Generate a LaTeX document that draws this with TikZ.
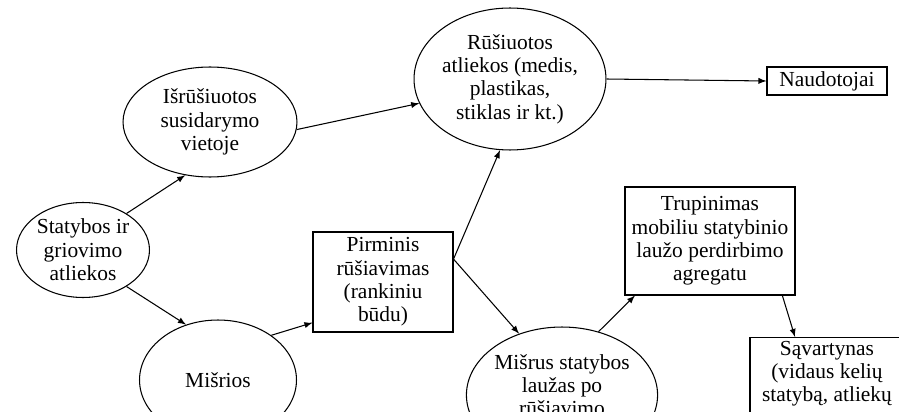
\documentclass[tikz,border=0pt]{standalone}
\usepackage{fontspec}
\setmainfont{Liberation Serif}
\usetikzlibrary{shapes.geometric}

\begin{document}
\begin{tikzpicture}[x=0.02cm,y=-0.02cm,
    oval/.style={draw,ellipse,inner sep=0pt,align=center,line width=0.6pt,font=\fontsize{12.2}{13.3}\selectfont},
    box/.style={draw,rectangle,inner sep=2pt,align=center,line width=0.6pt,font=\fontsize{12.2}{13.3}\selectfont},
    link/.style={-latex,line width=0.6pt}
]
\useasboundingbox (0,0) rectangle (899,412);
\clip (0,0) rectangle (899,412);

\node[oval] (stat)   at (83,250)  [minimum width=2.66cm,minimum height=1.9cm]  {Statybos ir\\griovimo\\atliekos};
\node[oval] (isr)    at (210,122) [minimum width=3.48cm,minimum height=2.2cm]  {Išrūšiuotos\\susidarymo\\vietoje};
\node[oval] (rus)    at (510,79)  [minimum width=3.52cm,minimum height=2.84cm] {Rūšiuotos\\atliekos (medis,\\plastikas,\\stiklas ir kt.)};
\node[box]  (naud)   at (827,81)  [minimum width=2.4cm,minimum height=0.56cm]  {Naudotojai};
\node[box]  (pirm)   at (383,282) [minimum width=2.8cm,minimum height=2.0cm]   {Pirminis\\rūšiavimas\\(rankiniu\\būdu)};
\node[oval] (misr)   at (218,380) [minimum width=3.14cm,minimum height=2.4cm]  {Mišrios};
\node[oval,text depth=0.4cm] (misrus) at (562,395) [minimum width=3.76cm,minimum height=2.72cm] {Mišrus statybos\\laužas po\\rūšiavimo};
\node[box]  (trup)   at (710,241) [minimum width=3.4cm,minimum height=2.16cm]  {Trupinimas\\mobiliu statybinio\\laužo perdirbimo\\agregatu};
\node[box,anchor=north,text depth=2cm] (sav) at (827,337) [minimum width=3.08cm] {Sąvartynas\\(vidaus kelių\\statybą, atliekų};

\draw[link] (stat.40) -- (isr.245);
\draw[link] (stat.-40) -- (misr.120);
\draw[link] (isr.-5) -- (rus.195);
\draw[link] (misr.40) -- (pirm.210);
\draw[link] (pirm.18) -- (rus.262);
\draw[link] (pirm.18) -- (misrus.125);
\draw[link] (rus.east) -- (naud.west);
\draw[link] (misrus.60) -- (trup.216);
\draw[link] (trup.-37) -- ([xshift=-0.64cm]sav.north);
\end{tikzpicture}
\end{document}
